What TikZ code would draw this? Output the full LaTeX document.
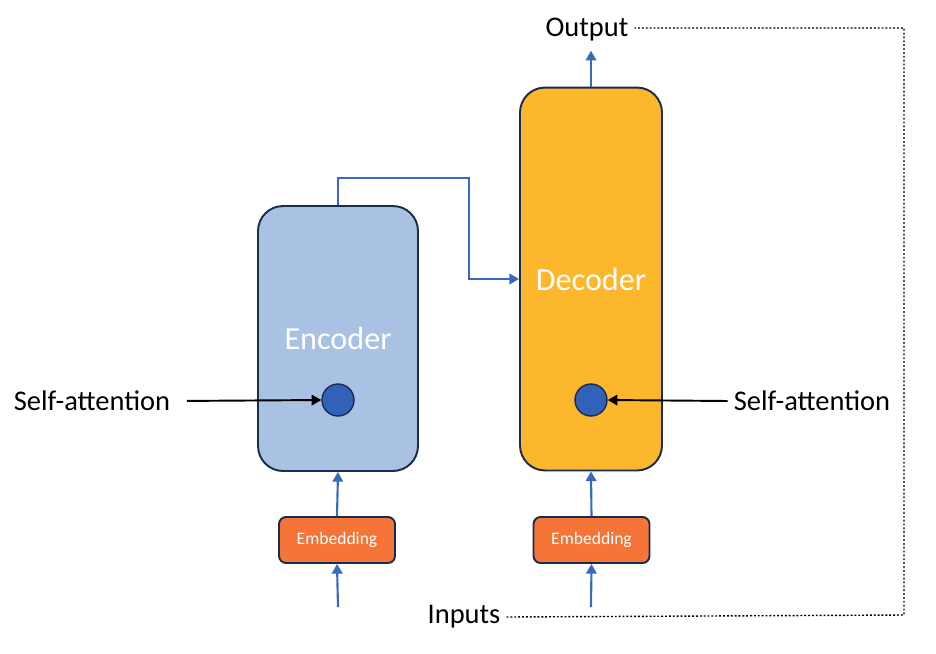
\documentclass[tikz,border=0pt]{standalone}
\usepackage{fontspec}
\setmainfont{Carlito}
\usepackage{xcolor}
\usepackage{tikz}
\usetikzlibrary{arrows.meta,positioning,calc}

\definecolor{encfill}{HTML}{A9C1E3}
\definecolor{decfill}{HTML}{FDB72C}
\definecolor{embfill}{HTML}{F47537}
\definecolor{navy}{HTML}{1B2B4B}
\definecolor{flow}{HTML}{3769C0}
\definecolor{dotblue}{HTML}{2F62B8}

\begin{document}
\begin{tikzpicture}[
	x=0.02cm, y=-0.02cm,
	>={Triangle[length=5.5pt,width=6pt]},
	block/.style={draw=navy, line width=1.1pt, rounded corners=0.5cm,
		text=white, font=\fontsize{18.3}{21}\selectfont},
	embed/.style={draw=navy, line width=1.1pt, fill=embfill, rounded corners=0.14cm,
		minimum width=2.32cm, minimum height=0.92cm, text=white,
		font=\fontsize{10}{12}\selectfont},
	attn/.style={circle, draw=navy, line width=0.8pt, fill=dotblue,
		minimum size=0.64cm, inner sep=0pt},
	label/.style={font=\fontsize{16.2}{19}\selectfont},
	flowline/.style={->, draw=flow, line width=1.2pt},
	pointer/.style={->, draw=black, line width=1.1pt},
	loopline/.style={draw=black, line width=0.8pt, dash pattern=on 1.1pt off 1.1pt}
  ]
  \useasboundingbox (0,0) rectangle (936,653);

  % blocks
  \node[block, fill=encfill, minimum width=3.2cm, minimum height=5.3cm] (enc) at (338,338.5) {Encoder};
  \node[block, fill=decfill, minimum width=2.84cm, minimum height=7.66cm] (dec) at (591,279) {Decoder};

  \node[attn] (encatt) at (338,400) {};
  \node[attn] (decatt) at (591,400) {};

  \node[embed] (encemb) at (337,540) {Embedding};
  \node[embed] (decemb) at (591.5,540) {Embedding};

  % texts
  \node[label] (saleft)  at (92,401)  {Self-attention};
  \node[label] (saright) at (812,401) {Self-attention};
  \node[label] (output)  at (587,30)  {Output};
  \node[label] (inputs)  at (464,617) {Inputs};

  \coordinate (encin) at (338,607);
  \coordinate (decin) at (591,607);
  \coordinate (bend) at (469,178);
  \coordinate (loop) at (904,615);

  % flow
  \draw[flowline] (encin) -- (encemb.south);
  \draw[flowline] (encemb.north) -- (enc.south);
  \draw[flowline] (decin) -- (decemb.south);
  \draw[flowline] (decemb.north) -- (dec.south);
  \draw[flowline] (dec.north) -- ($(dec.north |- output.south)+(0,3)$);
  \draw[flowline] (enc.north) |- (bend) -- (bend |- dec.west) -- (dec.west);

  \draw[pointer, shorten <=6pt] (saleft.east) -- (encatt.west);
  \draw[pointer] (saright.west) -- (decatt.east);

  \draw[loopline] (inputs.east) -- (loop) |- ($(output.east)+(0,-2)$);

\end{tikzpicture}
\end{document}
